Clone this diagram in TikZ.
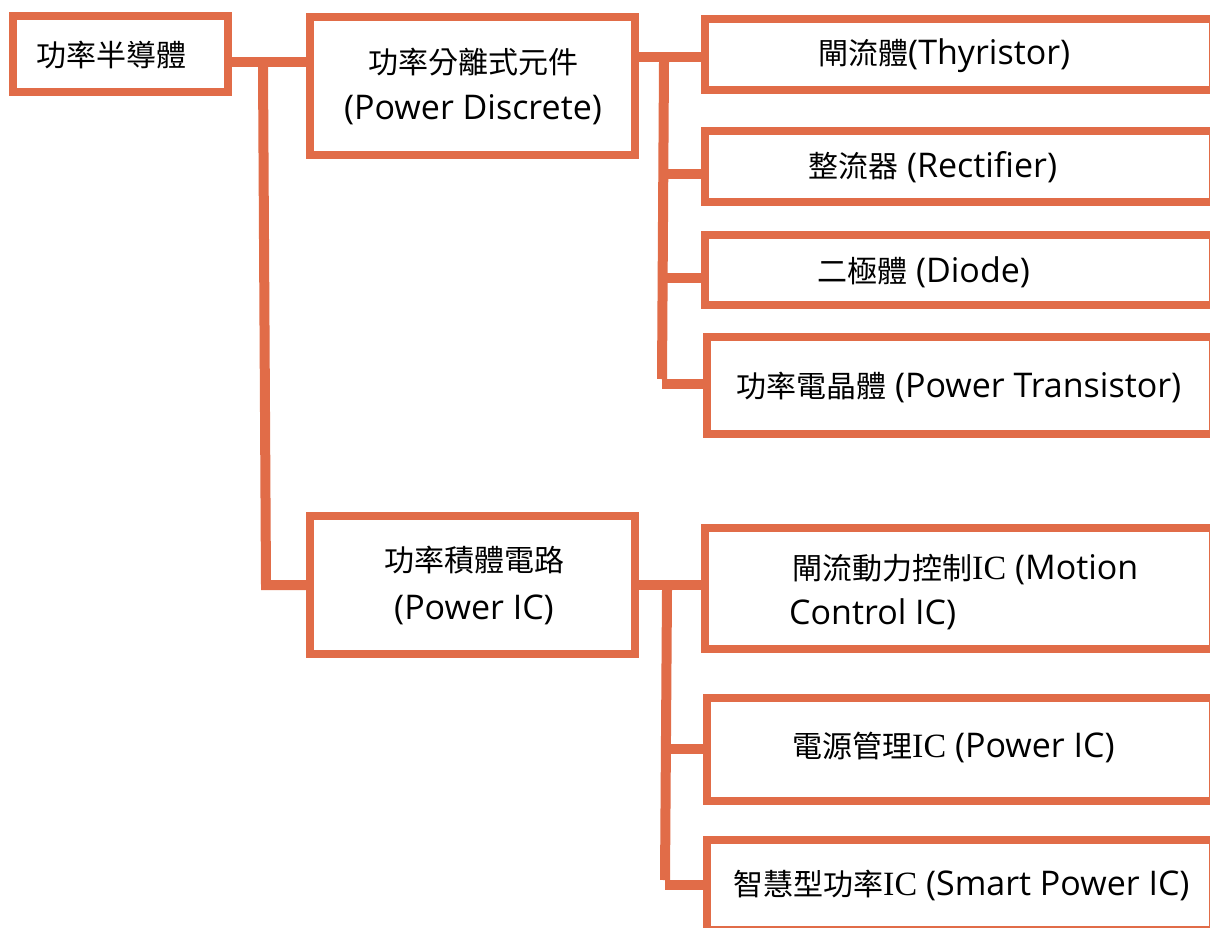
\documentclass[tikz,border=0pt]{standalone}
\usepackage{fontspec}
\setmainfont{Open Sans}
\newfontfamily\cjk{Noto Sans CJK TC}
\newfontfamily\serifIC{Liberation Serif}
\newcommand\zhtxt[1]{{\cjk\fontsize{30}{36}\selectfont #1}}
\newcommand\ictxt{{\serifIC IC}}
\definecolor{orng}{RGB}{225,108,72}
\begin{document}
\begin{tikzpicture}[x=1pt,y=-1pt,
  box/.style={draw=orng,line width=8pt,fill=white,rectangle,inner sep=0pt},
  conn/.style={draw=orng,line width=10pt},
  lbl/.style={inner sep=0pt,font=\fontsize{34}{40}\selectfont},
]
\useasboundingbox (0,0) rectangle (1210,927);
\clip (0,0) rectangle (1210,927);
% boxes
\node[box,minimum width=215pt,minimum height=76pt] (b1) at (120.5,54) {};
\node[box,minimum width=325pt,minimum height=138pt] (b2) at (472.5,86) {};
\node[box,minimum width=325pt,minimum height=138pt] (b3) at (472.5,585) {};
\node[box,minimum width=508pt,minimum height=71pt] (thy) at (959,54.5) {};
\node[box,minimum width=508pt,minimum height=71pt] (rec) at (959,166.5) {};
\node[box,minimum width=508pt,minimum height=70pt] (dio) at (959,270) {};
\node[box,minimum width=506pt,minimum height=97pt] (tra) at (960,385.5) {};
\node[box,minimum width=508pt,minimum height=121pt] (mot) at (959,588.5) {};
\node[box,minimum width=506pt,minimum height=103pt] (pwr) at (960,749.5) {};
\node[box,minimum width=506pt,minimum height=90pt] (sma) at (960,885) {};
% labels
\node[lbl,anchor=base west] (t1) at (36,66) {\zhtxt{功率半導體}};
\node[lbl,anchor=base] (t2a) at (473,73) {\zhtxt{功率分離式元件}};
\node[lbl,anchor=base] (t2b) at (473,119) {(Power Discrete)};
\node[lbl,anchor=base] (t3a) at (474,571) {\zhtxt{功率積體電路}};
\node[lbl,anchor=base] (t3b) at (474,619) {(Power IC)};
\node[lbl,anchor=base west] (tthy) at (818,64) {\zhtxt{閘流體}(Thyristor)};
\node[lbl,anchor=base west] (trec) at (808,177) {\zhtxt{整流器} (Rectifier)};
\node[lbl,anchor=base west] (tdio) at (817,282) {\zhtxt{二極體} (Diode)};
\node[lbl,anchor=base west] (ttra) at (736,397) {\zhtxt{功率電晶體} (Power Transistor)};
\node[lbl,anchor=base west] (tmot1) at (792,579) {\zhtxt{閘流動力控制}\ictxt{} (Motion};
\node[lbl,anchor=base west] (tmot2) at (789,624) {Control IC)};
\node[lbl,anchor=base west] (tpwr) at (792,757) {\zhtxt{電源管理}\ictxt{} (Power IC)};
\node[lbl,anchor=base west] (tsma) at (733,895) {\zhtxt{智慧型功率}\ictxt{} (Smart Power IC)};
% connectors
\coordinate (j1) at (263,62);
\coordinate (j1b) at (266,585);
\draw[conn] (b1.east |- j1) -- (b2.west |- j1);
\draw[conn] ([yshift=-5pt]j1) -- (j1b) -- (b3.west |- j1b);
\coordinate (j2) at (664,57);
\coordinate (j2b) at (662,384);
\draw[conn] (b2.east |- j2) -- (thy.west |- j2);
\draw[conn] ([yshift=-5pt]j2) -- ([yshift=5pt]j2b);
\coordinate (k1) at (663,174);
\coordinate (k2) at (662,278);
\draw[conn] (k1) -- (rec.west |- k1);
\draw[conn] (k2) -- (dio.west |- k2);
\draw[conn] (j2b) -- (tra.west |- j2b);
\coordinate (j3) at (667,585);
\coordinate (j3b) at (665,885);
\draw[conn] (b3.east |- j3) -- (mot.west |- j3);
\draw[conn] ([yshift=-5pt]j3) -- ([yshift=5pt]j3b);
\coordinate (k3) at (666,749);
\draw[conn] (k3) -- (pwr.west |- k3);
\draw[conn] (j3b) -- (sma.west |- j3b);
\end{tikzpicture}
\end{document}
